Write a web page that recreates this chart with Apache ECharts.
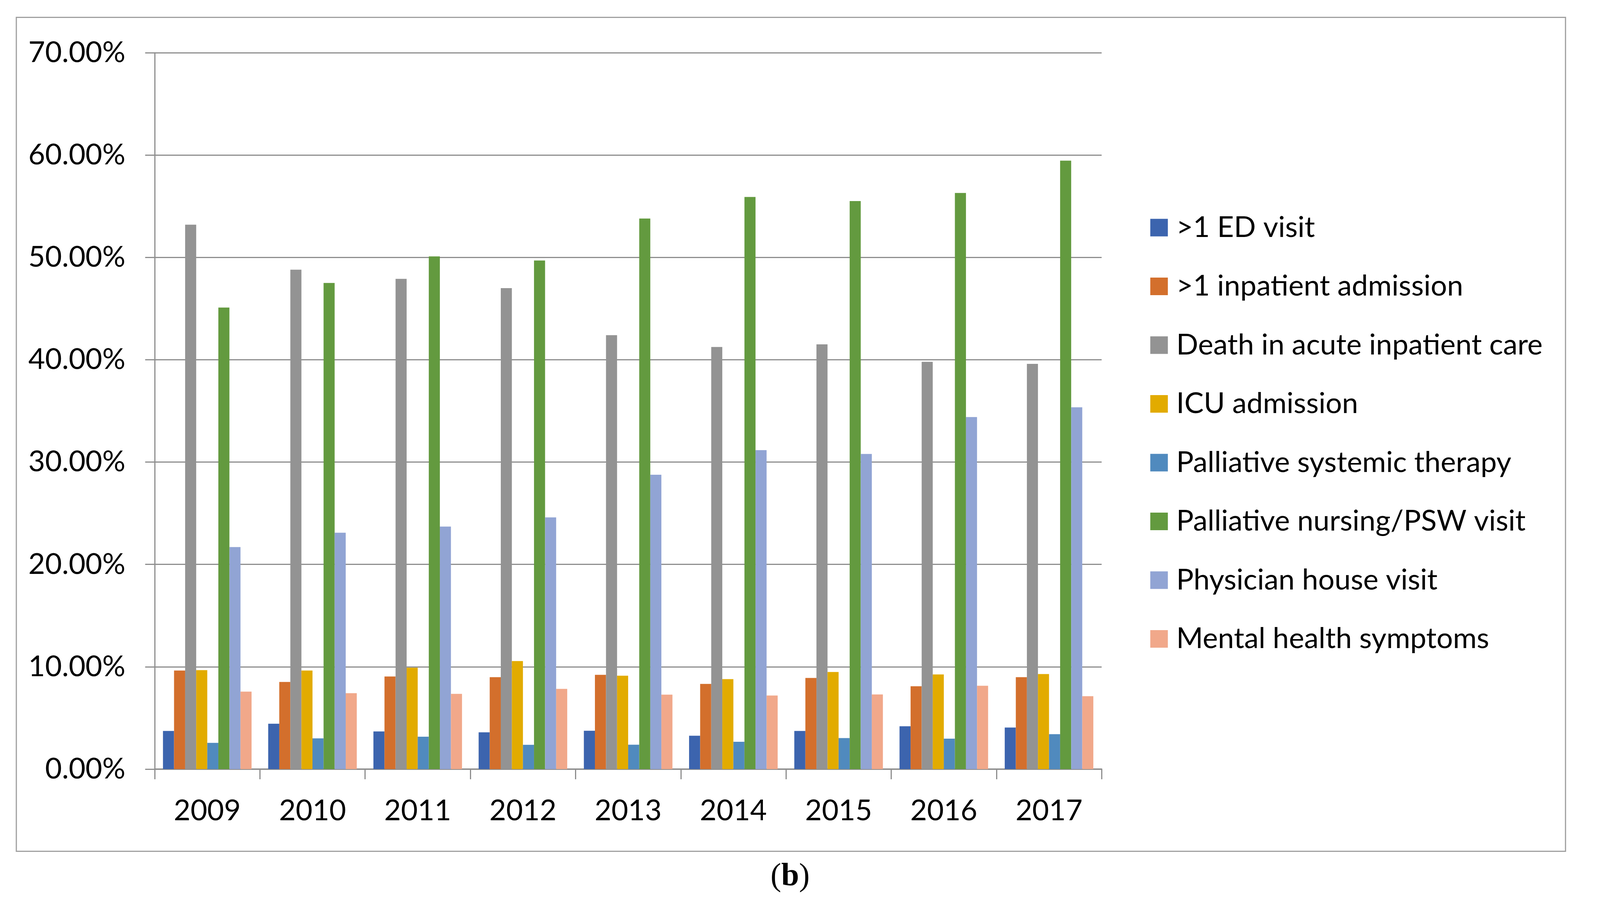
<!DOCTYPE html>
<html>
<head>
<meta charset="utf-8">
<script src="https://cdn.jsdelivr.net/npm/echarts@6/dist/echarts.min.js"></script>
<style>
html,body{margin:0;padding:0;background:#fff;overflow:hidden;}
#chart{width:100vw;height:100vh;}
</style>
</head>
<body>
<div id="chart"></div>
<script>
var categories = ['2009','2010','2011','2012','2013','2014','2015','2016','2017'];
var seriesNames = ['>1 ED visit','>1 inpatient admission','Death in acute inpatient care','ICU admission','Palliative systemic therapy','Palliative nursing/PSW visit','Physician house visit','Mental health symptoms'];
var edVisit      = [3.73, 4.43, 3.68, 3.60, 3.75, 3.26, 3.73, 4.19, 4.06];
var inpatient    = [9.63, 8.52, 9.05, 8.98, 9.21, 8.33, 8.91, 8.10, 8.98];
var deathAcute   = [53.2, 48.8, 47.9, 47.0, 42.4, 41.25, 41.5, 39.8, 39.6];
var icuAdmission = [9.67, 9.63, 9.91, 10.56, 9.13, 8.79, 9.49, 9.25, 9.29];
var systemicTx   = [2.57, 3.00, 3.17, 2.37, 2.38, 2.67, 3.03, 2.98, 3.41];
var nursingPSW   = [45.1, 47.5, 50.1, 49.7, 53.8, 55.9, 55.5, 56.3, 59.45];
var houseVisit   = [21.7, 23.1, 23.7, 24.6, 28.76, 31.17, 30.79, 34.4, 35.35];
var mentalHealth = [7.57, 7.42, 7.35, 7.84, 7.28, 7.19, 7.30, 8.14, 7.12];
var yTicks = {min: 0, max: 70, interval: 10};

var colors = ['#3C64AE','#D36F2C','#939393','#E2AB00','#508ABE','#639A3F','#91A4D4','#F1A88A'];
var allData = [edVisit, inpatient, deathAcute, icuAdmission, systemicTx, nursingPSW, houseVisit, mentalHealth];
var FONT = 'Lato';

var W = window.innerWidth || 4376, H = window.innerHeight || 2336;
var sx = W / 4376, sy = H / 2336;
var FS = 74;

var chart = echarts.init(document.getElementById('chart'), null, {renderer: 'canvas', width: W, height: H});
var series = seriesNames.map(function(n, i){
  return {
    name: n, type: 'bar', data: allData[i],
    barGap: '0%', barCategoryGap: '15.8%',
    itemStyle: {color: colors[i]},
    animation: false
  };
});

chart.setOption({
  backgroundColor: '#ffffff',
  animation: false,
  color: colors,
  grid: {left: 423 * sx, right: 4376 * sx - 3013 * sx, top: 135 * sy, bottom: H - 1970 * sy, containLabel: false},
  legend: {
    orient: 'vertical',
    left: 3146 * sx, top: 543 * sy,
    padding: 0,
    icon: 'rect',
    itemWidth: 45, itemHeight: 45,
    itemGap: 150.5 * sy - 80,
    textStyle: {fontFamily: FONT, fontSize: FS, color: '#000', lineHeight: 80, padding: [0, 0, 0, 23 * sx - 5]},
    data: seriesNames
  },
  xAxis: {
    type: 'category',
    data: categories,
    axisLine: {show: true, lineStyle: {color: '#8E8E8E', width: 3.5}},
    axisTick: {show: true, length: 26 * sy, lineStyle: {color: '#8E8E8E', width: 3}},
    axisLabel: {fontFamily: FONT, fontSize: FS, color: '#000', margin: 70 * sy},
    splitLine: {show: false}
  },
  yAxis: {
    type: 'value',
    min: yTicks.min, max: yTicks.max, interval: yTicks.interval,
    axisLine: {show: true, lineStyle: {color: '#8E8E8E', width: 3}},
    axisTick: {show: true, length: 26 * sx, lineStyle: {color: '#8E8E8E', width: 3}},
    axisLabel: {fontFamily: FONT, fontSize: FS, color: '#000', margin: 80 * sx,
      formatter: function(v){ return v.toFixed(2) + '%'; }},
    splitLine: {show: true, lineStyle: {color: '#8E8E8E', width: 3}}
  },
  graphic: [
    {type: 'rect', left: 42 * sx, top: 42 * sy,
     shape: {x: 0, y: 0, width: (4279 - 42) * sx, height: (2178 - 42) * sy},
     style: {fill: 'none', stroke: '#A0A0A0', lineWidth: 3}, silent: true, z: -1},
    {type: 'text', x: 2161 * sx, y: 2246 * sy,
     style: {text: '({b|b})', fontFamily: 'Liberation Serif', fontSize: 82, fill: '#000',
       textAlign: 'center', textVerticalAlign: 'middle',
       rich: {b: {fontFamily: 'Liberation Serif', fontWeight: 'bold', fontSize: 82, fill: '#000'}}}}
  ],
  series: series
});
</script>
</body>
</html>
